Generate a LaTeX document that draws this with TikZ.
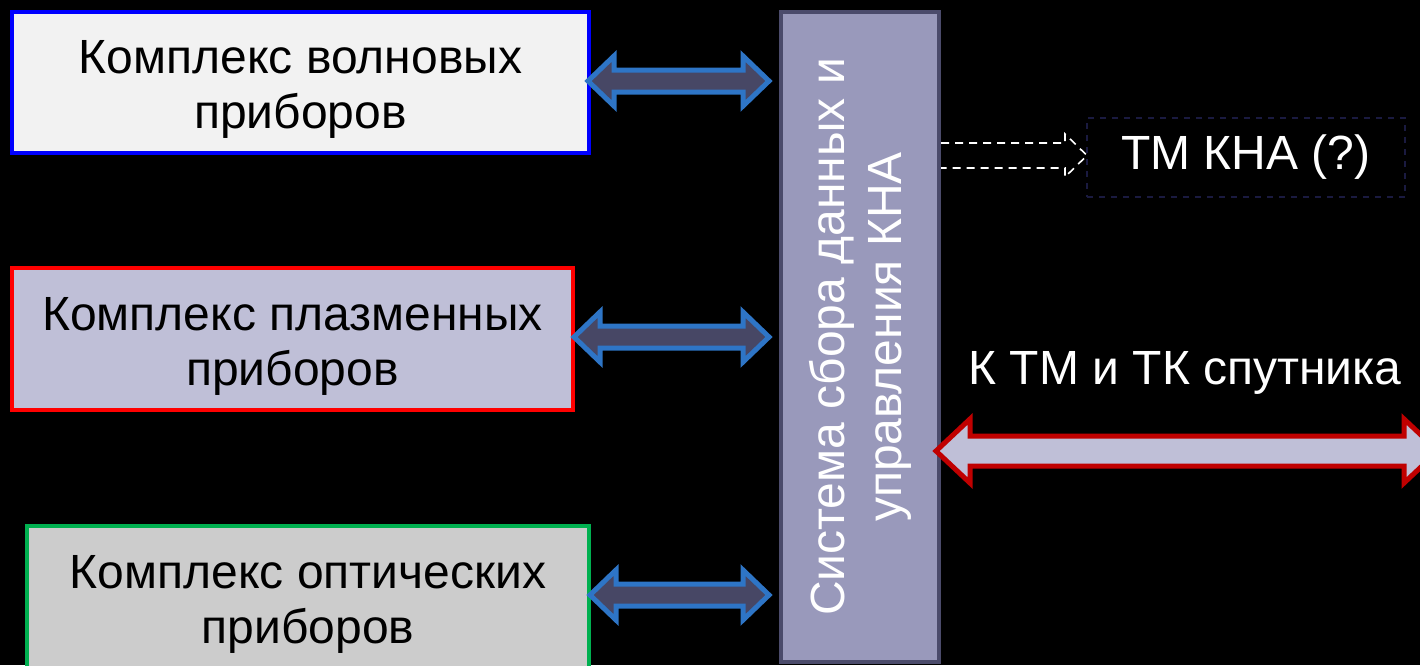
\documentclass[tikz,border=0pt]{standalone}
\usepackage{fontspec}
\setmainfont{Liberation Sans}
\definecolor{bg}{HTML}{000000}
\definecolor{boxblue}{HTML}{0000FF}
\definecolor{fillA}{HTML}{F2F2F2}
\definecolor{boxred}{HTML}{FF0000}
\definecolor{fillB}{HTML}{BFBFD7}
\definecolor{boxgreen}{HTML}{00B050}
\definecolor{fillC}{HTML}{CCCCCC}
\definecolor{sysfill}{HTML}{9999BB}
\definecolor{sysline}{HTML}{4B4B6B}
\definecolor{arrline}{HTML}{2E75C6}
\definecolor{arrfill}{HTML}{474765}
\definecolor{redarr}{HTML}{C00000}
\definecolor{tmline}{HTML}{1A1A40}
\newcommand{\dblarrow}[7]{%
  % #1 style, #2 x1, #3 x2, #4 yc, #5 shaft half, #6 head half, #7 head length
  \draw[#1] (#2,#4) -- (#2+#7,#4-#6) -- (#2+#7,#4-#5) -- (#3-#7,#4-#5) -- (#3-#7,#4-#6)
    -- (#3,#4) -- (#3-#7,#4+#6) -- (#3-#7,#4+#5) -- (#2+#7,#4+#5) -- (#2+#7,#4+#6) -- cycle;}
\begin{document}
\begin{tikzpicture}[x=0.5pt,y=-0.5pt,
  every node/.style={font=\fontsize{24pt}{27.5pt}\selectfont, align=center, inner sep=0pt},
  cbox/.style={draw, line width=2pt},
  boxtext/.style={text=black},
  bluearr/.style={draw=arrline, fill=arrfill, line width=2.5pt, line join=miter},
  redarrow/.style={draw=redarr, fill=fillB, line width=2.5pt, line join=miter},
  dasharr/.style={draw=white, dashed, dash pattern=on 4pt off 3pt, line width=0.8pt, fill=black}]
\fill[bg] (0,0) rectangle (1420,665);
\useasboundingbox (0,0) rectangle (1420,665);

\node[cbox, draw=boxblue, fill=fillA, minimum width=288.5pt, minimum height=70.5pt] (wave) at (300.5,82.5) {};
\node[boxtext] (wavetext) at ([yshift=-3.5pt]wave.center) {Комплекс волновых\\приборов};
\node[cbox, draw=boxred, fill=fillB, minimum width=280.5pt, minimum height=71pt] (plasma) at (292.5,339) {};
\node[boxtext] (plasmatext) at ([yshift=-3.5pt]plasma.center) {Комплекс плазменных\\приборов};
\node[cbox, draw=boxgreen, fill=fillC, minimum width=281pt, minimum height=71pt] (optic) at (308,597) {};
\node[boxtext] (optictext) at ([yshift=-3.5pt]optic.center) {Комплекс оптических\\приборов};

\node[draw=sysline, fill=sysfill, line width=2pt, minimum width=79pt, minimum height=325pt] (sys) at (860,337) {};
\node[text=white, rotate=90, font=\fontsize{24pt}{28.5pt}\selectfont] (systext) at (sys.center) {Система сбора данных и\\управления КНА};

\node[draw=tmline, dashed, line width=0.8pt, text=white, minimum width=159pt, minimum height=39.5pt] (tm) at (1246,157.5) {ТМ КНА (?)};
\node[text=white] (sat) at (1185,373) {К ТМ и ТК спутника};

\dblarrow{bluearr}{588}{769}{81}{11}{25}{26}
\dblarrow{bluearr}{574}{769}{337}{11}{25}{26}
\dblarrow{bluearr}{590}{769}{595}{11}{25}{26}
\dblarrow{redarrow}{936}{1438}{451}{15}{32}{34}

\draw[dasharr] (941,143) -- (1065,143) -- (1065,134) -- (1087,155.5) -- (1065,177) -- (1065,168) -- (941,168);
\end{tikzpicture}
\end{document}
